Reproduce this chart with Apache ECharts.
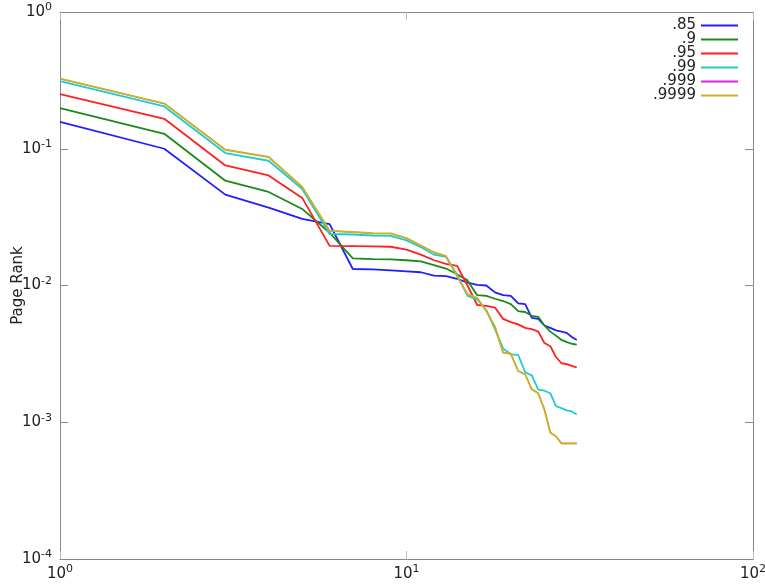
<!DOCTYPE html>
<html>
<head>
<meta charset="utf-8">
<script src="https://cdn.jsdelivr.net/npm/echarts@6/dist/echarts.min.js"></script>
<style>
html, body { margin: 0; padding: 0; background: #fff; }
#chart { width: 765px; height: 585px; }
</style>
</head>
<body>
<div id="chart"></div>
<script>
// rank position 1..31
var ranks = [];
for (var i = 1; i <= 31; i++) ranks.push(i);

var names = ['.85', '.9', '.95', '.99', '.999', '.9999'];
var colors = ['#1f1fff', '#1a8a1a', '#ff2020', '#1fcccc', '#dd22dd', '#c8b42a'];
var widths = [1.8, 1.8, 1.8, 1.8, 1.2, 1.9];

var d85 = [0.157, 0.100, 0.0462, 0.0371, 0.0307, 0.0281, 0.0132, 0.0131, 0.0129, 0.0127,
  0.0125, 0.0118, 0.0117, 0.0112, 0.0105, 0.0101, 0.0100, 0.0089, 0.0085, 0.0084,
  0.0074, 0.0073, 0.0058, 0.0057, 0.0051, 0.0049, 0.0047, 0.0046, 0.0045, 0.0042, 0.0040];
var d90 = [0.198, 0.1287, 0.0584, 0.0483, 0.0363, 0.0243, 0.0158, 0.0156, 0.0155, 0.0153,
  0.0150, 0.0141, 0.0133, 0.0121, 0.0109, 0.0085, 0.0084, 0.0080, 0.0077, 0.0073,
  0.0065, 0.0064, 0.0060, 0.0059, 0.0051, 0.0046, 0.0043, 0.0040, 0.00385, 0.00375, 0.0037];
var d95 = [0.2507, 0.1656, 0.0755, 0.0638, 0.0437, 0.0195, 0.0194, 0.0193, 0.0192, 0.0183,
  0.0168, 0.0153, 0.0144, 0.0139, 0.0100, 0.0072, 0.0071, 0.0069, 0.0057, 0.0054,
  0.0052, 0.0049, 0.0048, 0.0046, 0.0038, 0.0036, 0.0030, 0.0027, 0.00266, 0.00258, 0.00252];
var d99 = [0.312, 0.2037, 0.0930, 0.0817, 0.0508, 0.0238, 0.0236, 0.0232, 0.0231, 0.0214,
  0.0191, 0.0168, 0.0162, 0.0120, 0.0084, 0.0079, 0.0066, 0.0048, 0.00347, 0.00314,
  0.00311, 0.00232, 0.00220, 0.00173, 0.00170, 0.00163, 0.00131, 0.00127, 0.00122, 0.00120, 0.00114];
var d999 = [0.326, 0.214, 0.0984, 0.0870, 0.0525, 0.0251, 0.0246, 0.0241, 0.0240, 0.0222,
  0.0196, 0.0175, 0.0164, 0.0117, 0.0086, 0.0081, 0.0065, 0.0050, 0.00323, 0.00317,
  0.00237, 0.00224, 0.00174, 0.00163, 0.00124, 0.00084, 0.00079, 0.00070, 0.00070, 0.00070, 0.00070];
var d9999 = [0.326, 0.214, 0.0984, 0.0870, 0.0525, 0.0251, 0.0246, 0.0241, 0.0240, 0.0222,
  0.0196, 0.0175, 0.0164, 0.0117, 0.0086, 0.0081, 0.0065, 0.0050, 0.00323, 0.00317,
  0.00237, 0.00224, 0.00174, 0.00163, 0.00124, 0.00084, 0.00079, 0.00070, 0.00070, 0.00070, 0.00070];

var allData = [d85, d90, d95, d99, d999, d9999];

function pairs(arr) {
  return arr.map(function (v, i) { return [ranks[i], v]; });
}

function powLabel(value) {
  var e = Math.round(Math.log10(value));
  return '{b|10}{s|' + e + '}';
}
var richTxt = {
  b: { fontSize: 15, color: '#222', fontFamily: 'DejaVu Sans' },
  s: { fontSize: 11, color: '#222', fontFamily: 'DejaVu Sans', padding: [0, 0, 9, 0] }
};

var series = [];
for (var k = 0; k < names.length; k++) {
  series.push({
    name: names[k],
    type: 'line',
    data: pairs(allData[k]),
    showSymbol: false,
    symbol: 'none',
    lineStyle: { width: widths[k], color: colors[k] },
    itemStyle: { color: colors[k] },
    animation: false
  });
}

var chart = echarts.init(document.getElementById('chart'));
chart.setOption({
  backgroundColor: '#fff',
  animation: false,
  grid: { left: 60, right: 12, top: 12, bottom: 26, containLabel: false, outerBoundsMode: 'none' },
  legend: {
    orient: 'vertical',
    right: 22,
    top: 13,
    align: 'right',
    itemWidth: 37,
    itemHeight: 2,
    itemGap: -1,
    icon: 'rect',
    textStyle: { fontSize: 15, color: '#222', fontFamily: 'DejaVu Sans', lineHeight: 14 },
    data: names
  },
  xAxis: [{
    type: 'log', logBase: 10, min: 1, max: 100,
    axisLine: { lineStyle: { color: '#888', width: 1 } },
    axisTick: { inside: true, length: 8, lineStyle: { color: '#bbb' } },
    minorTick: { show: false },
    splitLine: { show: false },
    axisLabel: { formatter: powLabel, rich: richTxt, margin: 5 }
  }, {
    type: 'log', logBase: 10, min: 1, max: 100, position: 'top',
    axisLine: { lineStyle: { color: '#888', width: 1 } },
    axisTick: { inside: true, length: 8, lineStyle: { color: '#bbb' } },
    splitLine: { show: false },
    axisLabel: { show: false }
  }],
  yAxis: [{
    type: 'log', logBase: 10, min: 0.0001, max: 1,
    name: 'Page Rank',
    nameLocation: 'middle',
    nameGap: 34,
    nameMoveOverlap: false,
    nameRotate: 90,
    nameTextStyle: { fontSize: 15, color: '#222', fontFamily: 'DejaVu Sans' },
    axisLine: { show: true, lineStyle: { color: '#888', width: 1 } },
    axisTick: { show: true, inside: true, length: 8, lineStyle: { color: '#888' } },
    splitLine: { show: false },
    axisLabel: { formatter: powLabel, rich: richTxt, margin: 8 }
  }, {
    type: 'log', logBase: 10, min: 0.0001, max: 1, position: 'right',
    axisLine: { show: true, lineStyle: { color: '#888', width: 1 } },
    axisTick: { show: true, inside: true, length: 8, lineStyle: { color: '#888' } },
    splitLine: { show: false },
    axisLabel: { show: false }
  }],
  series: series
});
</script>
</body>
</html>
